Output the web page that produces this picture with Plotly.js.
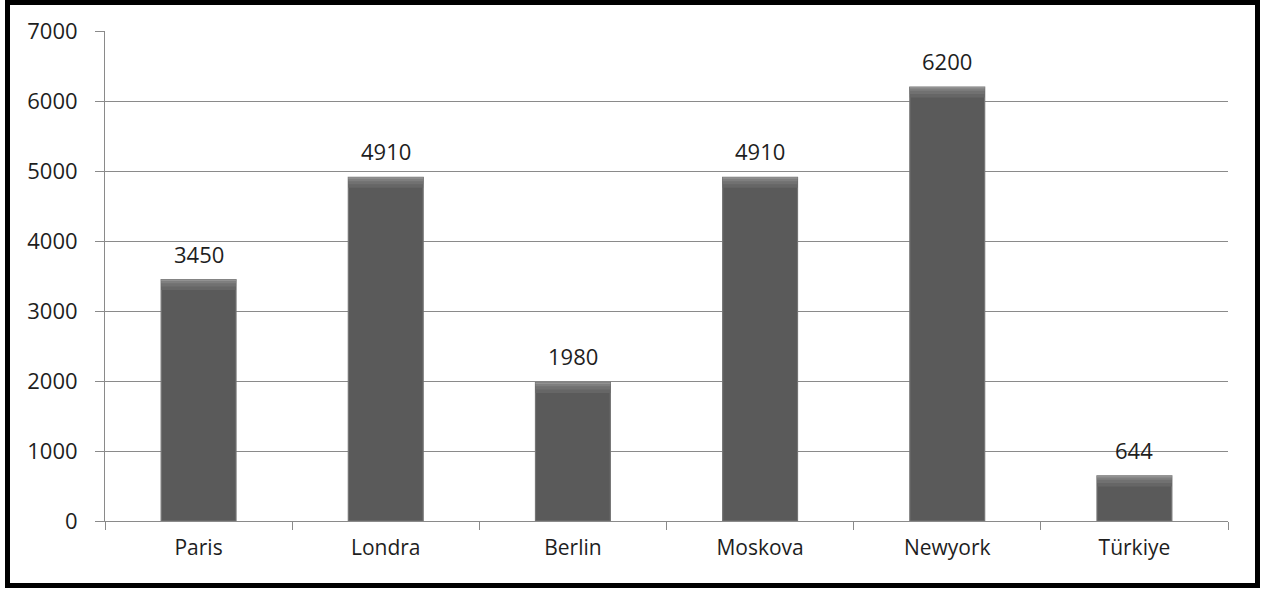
<!DOCTYPE html>
<html>
<head>
<meta charset="utf-8">
<script src="https://cdn.plot.ly/plotly-3.0.1.min.js"></script>
<style>
  html, body { margin: 0; padding: 0; background: #ffffff; }
  #frame {
    position: absolute; left: 5px; top: 0px;
    width: 1255px; height: 588px;
    box-sizing: border-box; border: 5px solid #000000;
    background: #ffffff;
  }
  #chart { width: 1245px; height: 578px; }
</style>
</head>
<body>
<div id="frame"><div id="chart"></div></div>
<script>
// City figures
const cities = ["Paris", "Londra", "Berlin", "Moskova", "Newyork", "Türkiye"];
const values = [3450, 4910, 1980, 4910, 6200, 644];
const yTicks = [0, 1000, 2000, 3000, 4000, 5000, 6000, 7000];

const FONT = "Open Sans, Noto Sans, sans-serif";
const GRID = "#8a8a8a";
const TEXT = "#1e1e1e";

// Main columns
const bars = {
  type: "bar",
  x: cities,
  y: values,
  width: 0.4,
  marker: { color: "#5a5a5a", line: { color: "#747474", width: 1.2 } },
  hoverinfo: "x+y"
};

// Bevelled top of each column: stacked lighter bands, shallowest is lightest
const bevels = [
  { depth: 150, color: "#666666" },
  { depth: 100, color: "#717171" },
  { depth: 55,  color: "#7f7f7f" },
  { depth: 22,  color: "#929292" }
];
const capTraces = bevels.map(b => ({
  type: "bar",
  x: cities,
  y: values.map(v => Math.min(b.depth, v)),
  base: values.map(v => v - Math.min(b.depth, v)),
  width: 0.4,
  marker: { color: b.color, line: { width: 0 } },
  hoverinfo: "skip"
}));

const labels = cities.map((c, i) => ({
  x: c, y: values[i], xref: "x", yref: "y",
  text: String(values[i]), showarrow: false,
  yanchor: "bottom", yshift: 9,
  font: { family: FONT, size: 22, color: TEXT }
}));

const layout = {
  width: 1245, height: 578,
  margin: { l: 95, r: 27, t: 26, b: 61.5, pad: 0 },
  paper_bgcolor: "#ffffff",
  plot_bgcolor: "#ffffff",
  barmode: "overlay",
  showlegend: false,
  font: { family: FONT, size: 21, color: TEXT },
  xaxis: {
    type: "category",
    showgrid: false,
    showline: true, linecolor: GRID, linewidth: 1,
    ticks: "outside", tickson: "boundaries", ticklen: 8, tickcolor: GRID, tickwidth: 1,
    ticklabelstandoff: 8,
    tickfont: { family: FONT, size: 21, color: TEXT },
    zeroline: false
  },
  yaxis: {
    range: [0, 7000],
    tickvals: yTicks,
    ticktext: yTicks.map(String),
    showgrid: true, gridcolor: GRID, gridwidth: 1,
    showline: true, linecolor: GRID, linewidth: 1,
    ticks: "outside", ticklen: 9, tickcolor: GRID, tickwidth: 1,
    ticklabelstandoff: 13,
    tickfont: { family: FONT, size: 22, color: TEXT },
    zeroline: false
  },
  annotations: labels
};

Plotly.newPlot("chart", [bars].concat(capTraces), layout, { displayModeBar: false, staticPlot: true });
</script>
</body>
</html>
